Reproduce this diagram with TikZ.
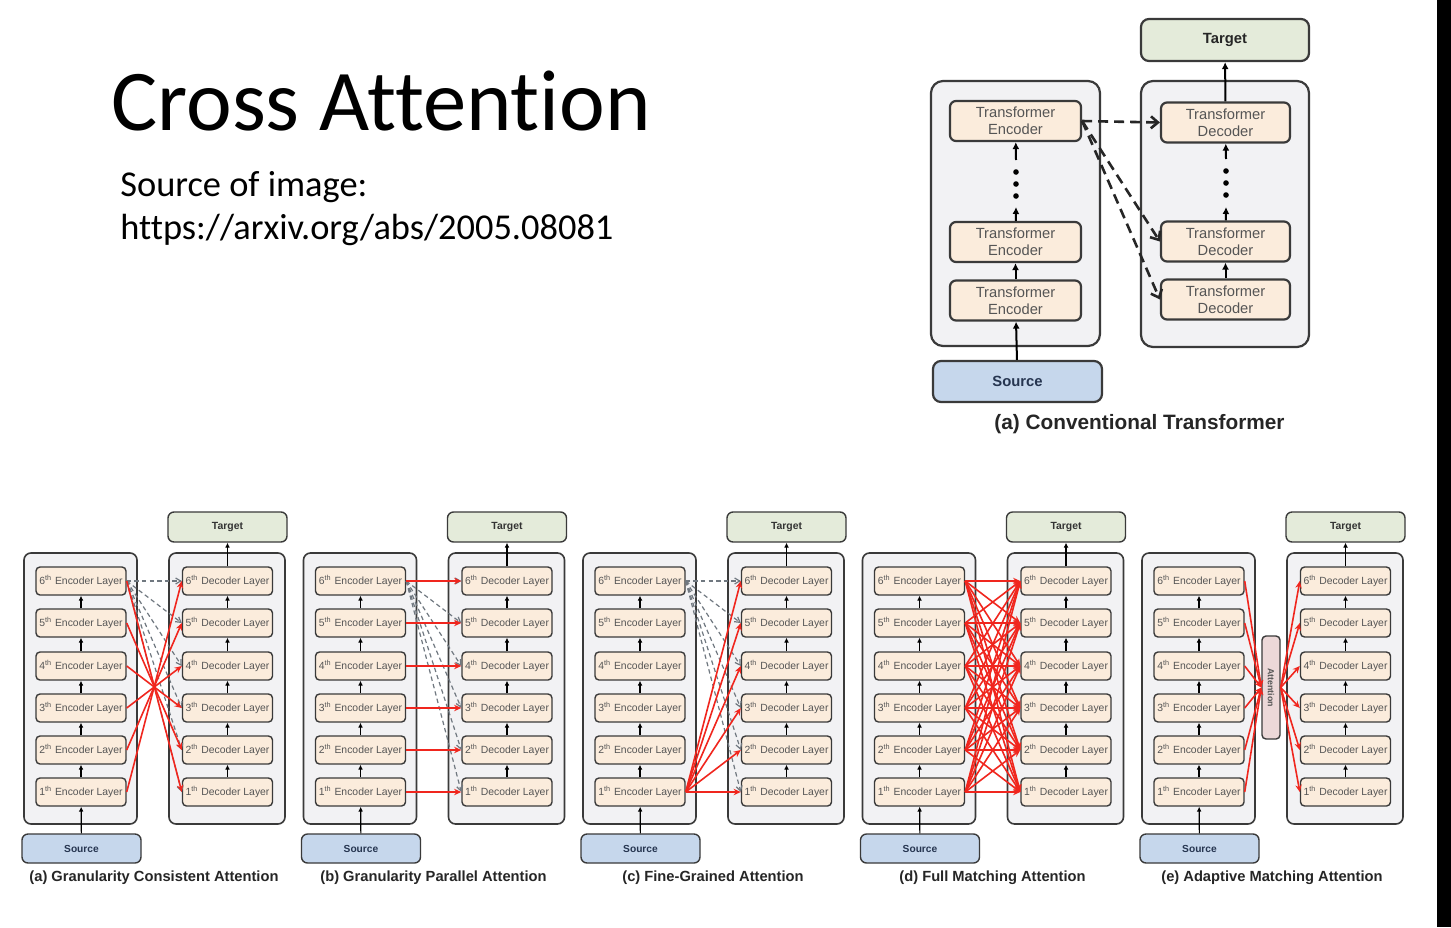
\documentclass[tikz,border=0pt]{standalone}
\usepackage{fontspec}
\usepackage{graphicx}
\setmainfont{Liberation Sans}
\newfontfamily\calib[Ligatures={NoCommon}]{Carlito}
\usetikzlibrary{arrows.meta}
\definecolor{layerfill}{RGB}{251,236,220}
\definecolor{contfill}{RGB}{242,242,244}
\definecolor{tgtfill}{RGB}{228,235,218}
\definecolor{srcfill}{RGB}{198,215,236}
\definecolor{attfill}{RGB}{236,216,216}
\definecolor{bordc}{RGB}{58,58,58}
\definecolor{txtc}{RGB}{85,85,85}
\definecolor{srctxt}{RGB}{38,53,80}
\definecolor{redc}{RGB}{240,38,30}
\definecolor{dashc}{RGB}{112,120,128}
\tikzset{
  x=0.5pt, y=-0.5pt,
  cont/.style={draw=bordc, fill=contfill, rounded corners=3.5pt, line width=0.8pt, inner sep=0pt},
  layer/.style={draw=bordc, fill=layerfill, rounded corners=2pt, line width=0.7pt, minimum width=45pt, minimum height=14pt, inner sep=0pt, text=txtc, font=\fontsize{5.2}{6}\selectfont},
  tgtbox/.style={draw=bordc, fill=tgtfill, rounded corners=3pt, line width=0.7pt, inner sep=0pt, text=black!80, font=\bfseries\fontsize{5.2}{6}\selectfont},
  srcbox/.style={draw=bordc, fill=srcfill, rounded corners=3pt, line width=0.7pt, inner sep=0pt, text=srctxt, font=\bfseries\fontsize{5.1}{6}\selectfont},
  vup/.style={draw=black, line width=0.6pt, -{Latex[length=2.4pt,width=2.4pt]}},
  redar/.style={draw=redc, line width=0.8pt, -{Stealth[length=3.6pt,width=3.2pt]}},
  gdash/.style={draw=dashc, line width=0.6pt, dash pattern=on 2.2pt off 1.6pt, -{Straight Barb[length=2.5pt,width=3pt]}},
  capb/.style={font=\bfseries\fontsize{7.35}{8}\selectfont, text=black!85, inner sep=0pt},
  attbox/.style={draw=bordc, fill=attfill, rounded corners=2pt, line width=0.7pt, minimum width=9pt, minimum height=51.5pt, inner sep=0pt, text=txtc, font=\bfseries\fontsize{4.4}{5}\selectfont},
  tcont/.style={draw=bordc, fill=contfill, rounded corners=6pt, line width=1.1pt, inner sep=0pt},
  tlayer/.style={draw=bordc, fill=layerfill, rounded corners=3pt, line width=1.1pt, minimum width=65.5pt, minimum height=20pt, inner sep=0pt, align=center, text=txtc, font=\fontsize{7.35}{8.5}\selectfont},
  tarr/.style={draw=black, line width=1pt, -{Latex[length=3.5pt,width=3.5pt]}},
  tdash/.style={draw=black!85, line width=1.3pt, dash pattern=on 5pt off 3pt, -{Straight Barb[length=3.5pt,width=6pt]}},
  tdot/.style={circle, fill=black, inner sep=0pt, minimum size=2.8pt},
}
\newcommand\mkpanel[3]{%
\begin{scope}[shift={(#2,0)}]
\node[cont, minimum width=56.5pt, minimum height=135.5pt] (#1-eb) at (80.5,688.5) {};
\node[cont, minimum width=58pt, minimum height=135.5pt] (#1-db) at (227,688.5) {};
\node[tgtbox, minimum width=59.5pt, minimum height=15pt] (#1-tgt) at (227.5,527) {Target};
\node[srcbox, minimum width=59.5pt, minimum height=14.5pt] (#1-src) at (81.5,848.5) {Source};
\foreach \i/\yy in {1/792,2/750,3/708,4/666,5/623,6/581}{
  \node[layer] (#1-e\i) at (81,\yy) {\i\textsuperscript{th} Encoder Layer};
  \node[layer] (#1-d\i) at (227.5,\yy) {\i\textsuperscript{th} Decoder Layer};
}
\foreach \i in {1,...,5}{
  \pgfmathtruncatemacro\j{\i+1}
  \draw[vup] (#1-e\i) -- (#1-e\j);
  \draw[vup] (#1-d\i) -- (#1-d\j);
}
\draw[vup] (#1-src) -- (#1-e1);
\draw[vup] (#1-d6) -- (#1-tgt);
\node[capb] (#1-cap) at (154,878) {#3};
\end{scope}}
\begin{document}
\begin{tikzpicture}
\useasboundingbox (0,0) rectangle (1451,927);
\fill[white] (0,0) rectangle (1451,927);
\fill[black] (1437,0) rectangle (1451,927);

% Title
\node[anchor=base west, inner sep=0pt, font=\calib\fontsize{43.3}{50}\selectfont] (title) at (111,130) {Cross Attention};
\node[anchor=base west, inner sep=0pt, font=\calib\fontsize{18.2}{22}\selectfont] (sub1) at (120,196) {Source of image:};
\node[anchor=base west, inner sep=0pt, font=\calib\fontsize{18.2}{22}\selectfont] (sub2) at (120,239) {https://arxiv.org/abs/2005.08081};

% Top: conventional transformer
\node[tcont, minimum width=84.5pt, minimum height=132.5pt] (t-ebox) at (1015.5,213.5) {};
\node[tcont, minimum width=84pt, minimum height=133pt] (t-dbox) at (1225,214) {};
\node[draw=bordc, fill=tgtfill, rounded corners=4pt, line width=1.1pt, minimum width=84pt, minimum height=21pt, inner sep=0pt, font=\bfseries\fontsize{7.4}{8}\selectfont, text=black!85] (t-tgt) at (1225,40) {Target};
\node[draw=bordc, fill=srcfill, rounded corners=4pt, line width=1.1pt, minimum width=84.5pt, minimum height=20.5pt, inner sep=0pt, font=\bfseries\fontsize{7.4}{8}\selectfont, text=srctxt] (t-src) at (1017.5,381.5) {Source};
\node[tlayer] (t-enc3) at (1015.5,121) {Transformer\\Encoder};
\node[tlayer] (t-enc2) at (1015.5,242) {Transformer\\Encoder};
\node[tlayer] (t-enc1) at (1015.5,300.5) {Transformer\\Encoder};
\node[tlayer, minimum width=64.5pt] (t-dec3) at (1225.5,122.5) {Transformer\\Decoder};
\node[tlayer, minimum width=64.5pt] (t-dec2) at (1225.5,241.5) {Transformer\\Decoder};
\node[tlayer, minimum width=64.5pt] (t-dec1) at (1225.5,299.5) {Transformer\\Decoder};
\node[tdot] (t-ed1) at (1016,172) {};
\node[tdot] (t-ed2) at (1016,184) {};
\node[tdot] (t-ed3) at (1016,196) {};
\node[tdot] (t-dd1) at (1226,171) {};
\node[tdot] (t-dd2) at (1226,183) {};
\node[tdot] (t-dd3) at (1226,195) {};
\coordinate (t-ea) at (1016,207);
\coordinate (t-eb) at (1016,160);
\coordinate (t-da) at (1226,207);
\coordinate (t-db) at (1226,159);
\draw[tarr] (t-src) -- (t-enc1);
\draw[tarr] (t-enc1) -- (t-enc2);
\draw[tarr] (t-enc2) -- (t-ea);
\draw[tarr] (t-eb) -- (t-enc3);
\draw[tarr] (t-dec1) -- (t-dec2);
\draw[tarr] (t-dec2) -- (t-da);
\draw[tarr] (t-db) -- (t-dec3);
\draw[tarr] (t-dec3) -- (t-tgt);
\draw[tdash] (t-enc3.east) -- (t-dec3.west);
\draw[tdash] (t-enc3.east) -- (t-dec2.west);
\draw[tdash] (t-enc3.east) -- (t-dec1.west);
\node[font=\bfseries\fontsize{10.4}{12}\selectfont, text=black!85, inner sep=0pt] (t-cap) at (1139.5,424) {(a) Conventional Transformer};

% Bottom panels
\mkpanel{pa}{0}{(a) Granularity Consistent Attention}
\mkpanel{pb}{279.5}{(b) Granularity Parallel Attention}
\mkpanel{pc}{559}{(c) Fine-Grained Attention}
\mkpanel{pd}{838.5}{(d) Full Matching Attention}
\mkpanel{pe}{1118}{(e) Adaptive Matching Attention}
\node[attbox] (pe-att) at (1271,687.5) {\rotatebox{-90}{Attention}};

% (a)
\foreach \j in {1,...,6} \draw[gdash] (pa-e6.east) -- (pa-d\j.west);
\foreach \i in {1,...,6} {\pgfmathtruncatemacro\k{7-\i} \draw[redar] (pa-e\i.east) -- (pa-d\k.west);}
% (b)
\foreach \j in {1,...,6} \draw[gdash] (pb-e6.east) -- (pb-d\j.west);
\foreach \i in {1,...,6} \draw[redar] (pb-e\i.east) -- (pb-d\i.west);
% (c)
\foreach \j in {1,...,6} \draw[gdash] (pc-e6.east) -- (pc-d\j.west);
\foreach \j in {1,...,6} \draw[redar] (pc-e1.east) -- (pc-d\j.west);
% (d)
\foreach \i in {1,...,6} {\foreach \j in {1,...,6} \draw[redar] (pd-e\i.east) -- (pd-d\j.west);}
% (e)
\foreach \i in {1,...,6} \draw[redar] (pe-e\i.east) -- (pe-att.west);
\foreach \j in {1,...,6} \draw[redar] (pe-att.east) -- (pe-d\j.west);
\end{tikzpicture}
\end{document}
